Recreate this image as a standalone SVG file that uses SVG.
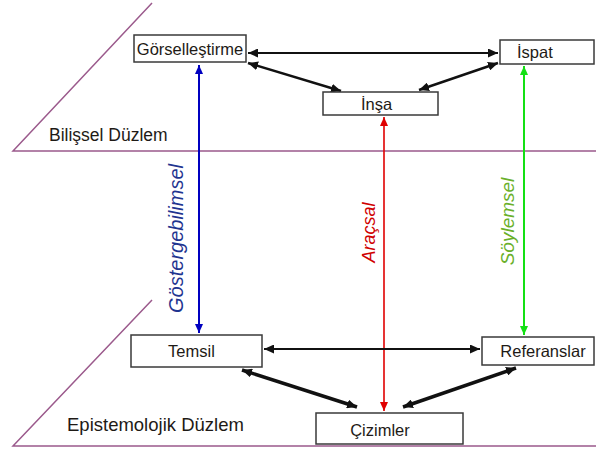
<svg xmlns="http://www.w3.org/2000/svg" width="596" height="452" viewBox="0 0 596 452">
<style>
.box{fill:#fff;stroke:#3a3a3a;stroke-width:1.5}
.lbl{font-family:"Liberation Sans",Arial,sans-serif;font-size:16.5px;fill:#1e1a16}
.plane{fill:none;stroke:#9b5a8c;stroke-width:1.5}
.pl{font-family:"Liberation Sans",Arial,sans-serif;fill:#1e1a16}
.vt{font-family:"Liberation Sans",Arial,sans-serif;font-style:italic;text-anchor:middle}
.k{stroke:#111;fill:none}
</style>
<defs>
<marker id="ak" markerUnits="userSpaceOnUse" markerWidth="11" markerHeight="9" refX="10" refY="4.5" orient="auto-start-reverse"><path d="M0,0 L10,4.5 L0,9 z" fill="#111"/></marker>
<marker id="ab" markerUnits="userSpaceOnUse" markerWidth="10" markerHeight="8" refX="9" refY="4" orient="auto-start-reverse"><path d="M0,0 L9,4 L0,8 z" fill="#0000c0"/></marker>
<marker id="ar" markerUnits="userSpaceOnUse" markerWidth="10" markerHeight="8" refX="9" refY="4" orient="auto-start-reverse"><path d="M0,0 L9,4 L0,8 z" fill="#e00000"/></marker>
<marker id="ag" markerUnits="userSpaceOnUse" markerWidth="10" markerHeight="8" refX="9" refY="4" orient="auto-start-reverse"><path d="M0,0 L9,4 L0,8 z" fill="#14e014"/></marker>
</defs>
<g id="planes">
<polyline class="plane" points="152,3 13,151 596,151"/>
<polyline class="plane" points="152,300 13,446 596,446"/>
<text class="pl" x="49" y="141" font-size="17.5">Bilişsel Düzlem</text>
<text class="pl" x="67" y="431" font-size="18.5">Epistemolojik Düzlem</text>
</g>
<g id="connectors">
<line class="k" x1="248" y1="53" x2="498" y2="53" stroke-width="2" marker-start="url(#ak)" marker-end="url(#ak)"/>
<line class="k" x1="248" y1="63" x2="341" y2="91" stroke-width="2.5" marker-start="url(#ak)" marker-end="url(#ak)"/>
<line class="k" x1="498" y1="63" x2="419" y2="90" stroke-width="2.5" marker-start="url(#ak)" marker-end="url(#ak)"/>
<line x1="199" y1="65" x2="199" y2="333" stroke="#0000c0" stroke-width="2" marker-start="url(#ab)" marker-end="url(#ab)"/>
<line x1="384" y1="117" x2="384" y2="411" stroke="#e00000" stroke-width="1.6" marker-start="url(#ar)" marker-end="url(#ar)"/>
<line x1="524" y1="66" x2="524" y2="335" stroke="#14e014" stroke-width="2" marker-start="url(#ag)" marker-end="url(#ag)"/>
<line class="k" x1="264" y1="349" x2="480" y2="349" stroke-width="2" marker-start="url(#ak)" marker-end="url(#ak)"/>
<line class="k" x1="242" y1="370" x2="357" y2="407" stroke-width="3.5" marker-start="url(#ak)" marker-end="url(#ak)"/>
<line class="k" x1="516" y1="368" x2="403" y2="407" stroke-width="3.5" marker-start="url(#ak)" marker-end="url(#ak)"/>
<text class="vt" transform="translate(183,238.5) rotate(-90)" font-size="20" fill="#1f3590">Göstergebilimsel</text>
<text class="vt" transform="translate(375,232.5) rotate(-90)" font-size="18" fill="#d00000">Araçsal</text>
<text class="vt" transform="translate(514,221.5) rotate(-90)" font-size="19" fill="#6ab02a">Söylemsel</text>
</g>
<g id="gorsellestirme"><rect class="box" x="134" y="35" width="112" height="27"/><text class="lbl" x="190" y="55" text-anchor="middle">Görselleştirme</text></g>
<g id="ispat"><rect class="box" x="500" y="40" width="94" height="24"/><text class="lbl" x="517" y="58">İspat</text></g>
<g id="insa"><rect class="box" x="323" y="92" width="115" height="23"/><text class="lbl" x="376.5" y="110" text-anchor="middle">İnşa</text></g>
<g id="temsil"><rect class="box" x="131" y="335" width="131" height="32"/><text class="lbl" x="191.5" y="357" text-anchor="middle">Temsil</text></g>
<g id="referanslar"><rect class="box" x="482" y="337" width="112" height="28"/><text class="lbl" x="543" y="357" text-anchor="middle">Referanslar</text></g>
<g id="cizimler"><rect class="box" x="316" y="413" width="147" height="31"/><text class="lbl" x="380" y="436" text-anchor="middle">Çizimler</text></g>
</svg>
